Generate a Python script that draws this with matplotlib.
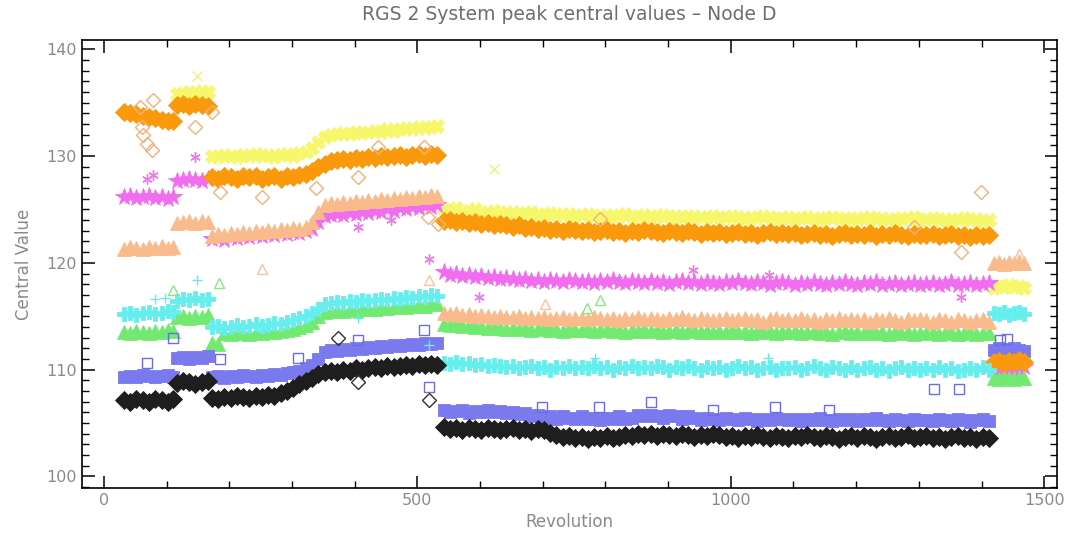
import numpy as np
import matplotlib
matplotlib.use('Agg')
import matplotlib.pyplot as plt
from matplotlib.ticker import MultipleLocator

nan = np.nan

# revolutions sampled in each observing period
rev_a = [32, 42, 52, 62, 72, 82, 92, 102, 110]
rev_b = [116, 126, 136, 146, 156, 166]
rev_c = [172, 182, 192, 202, 212, 222, 232, 242, 252, 262, 272, 282, 292,
         302, 312, 322, 332, 342, 352, 362, 372, 382, 392, 402, 412, 422,
         432, 442, 452, 462, 472, 482, 492, 502, 512, 522, 532]
rev_d = [542, 552, 562, 572, 582, 592, 602, 612, 622, 632, 642,
         652, 662, 672, 682, 692, 702, 712, 722, 732, 742, 752,
         762, 772, 782, 792, 802, 812, 822, 832, 842, 852, 862,
         872, 882, 892, 902, 912, 922, 932, 942, 952, 962, 972,
         982, 992, 1002, 1012, 1022, 1032, 1042, 1052, 1062, 1072, 1082,
         1092, 1102, 1112, 1122, 1132, 1142, 1152, 1162, 1172, 1182, 1192,
         1202, 1212, 1222, 1232, 1242, 1252, 1262, 1272, 1282, 1292, 1302,
         1312, 1322, 1332, 1342, 1352, 1362, 1372, 1382, 1392, 1402, 1412]
rev_e = [1420, 1428, 1436, 1444, 1452, 1460, 1468]
revolution = rev_a + rev_b + rev_c + rev_d + rev_e

# peak central values (same order as revolution)
yellow = ([nan] * 9 +
          [135.8, 135.9, 136.0, 135.9, 136.1, 136.0] +
          [130.0, 129.9, 130.1, 130.0, 129.9, 130.1, 130.0, 130.2, 130.0, 130.1, 129.9, 130.1, 130.2,
           130.0, 130.3, 130.4, 130.8, 131.3, 131.8, 132.0, 132.1, 132.2, 132.1, 132.3, 132.2, 132.3,
           132.4, 132.3, 132.5, 132.4, 132.5, 132.6, 132.5, 132.7, 132.6, 132.7, 132.8] +
          [125.0, 124.9, 125.1, 124.8, 124.9, 125.0, 124.8, 124.7, 124.9, 124.8, 124.7,
           124.8, 124.6, 124.7, 124.8, 124.6, 124.5, 124.7, 124.6, 124.5, 124.6, 124.4,
           124.5, 124.6, 124.4, 124.5, 124.3, 124.5, 124.4, 124.6, 124.4, 124.3, 124.5,
           124.4, 124.3, 124.5, 124.4, 124.2, 124.4, 124.3, 124.4, 124.2, 124.3, 124.4,
           124.3, 124.2, 124.4, 124.3, 124.1, 124.3, 124.2, 124.4, 124.3, 124.1, 124.2,
           124.3, 124.1, 124.2, 124.3, 124.2, 124.0, 124.2, 124.3, 124.1, 124.2, 124.0,
           124.2, 124.1, 124.3, 124.0, 124.2, 124.1, 124.0, 124.2, 124.1, 124.3, 124.0,
           124.1, 124.2, 124.0, 124.1, 123.9, 124.1, 124.2, 124.0, 124.1, 123.9, 124.0] +
          [117.6, 117.8, 117.7, 117.9, 117.7, 117.8, 117.6])

orange = ([134.1, 134.0, 133.9, 133.8, 133.7, 133.6, 133.4, 133.3, 133.3] +
          [134.8, 134.9, 134.7, 134.9, 134.8, 134.7] +
          [128.0, 127.9, 128.1, 128.0, 127.9, 128.1, 128.0, 128.1, 127.9, 128.0, 128.1, 127.9, 128.1,
           128.0, 128.2, 128.3, 128.6, 129.0, 129.3, 129.5, 129.6, 129.7, 129.6, 129.8, 129.7, 129.9,
           129.8, 130.0, 129.9, 130.0, 130.1, 129.9, 130.1, 130.2, 130.0, 130.2, 130.1] +
          [123.9, 124.0, 123.8, 123.9, 123.7, 123.8, 123.6, 123.7, 123.5, 123.6, 123.5,
           123.4, 123.5, 123.3, 123.4, 123.2, 123.3, 123.1, 123.2, 123.0, 123.2, 123.1,
           123.0, 123.1, 122.9, 123.0, 123.1, 122.9, 123.0, 122.8, 123.0, 122.9, 123.1,
           123.0, 122.9, 122.8, 123.0, 122.9, 122.8, 123.0, 122.9, 122.7, 122.9, 122.8,
           122.9, 122.7, 122.8, 122.9, 122.7, 122.8, 122.6, 122.8, 122.9, 122.7, 122.8,
           122.7, 122.8, 122.6, 122.7, 122.8, 122.6, 122.7, 122.5, 122.7, 122.8, 122.6,
           122.7, 122.6, 122.8, 122.5, 122.7, 122.6, 122.8, 122.6, 122.5, 122.7, 122.6,
           122.6, 122.7, 122.5, 122.6, 122.7, 122.5, 122.6, 122.4, 122.6, 122.5, 122.6] +
          [110.7, 110.8, 110.6, 110.8, 110.7, 110.9, 110.7])

magenta = ([126.2, 126.3, 126.1, 126.2, 126.3, 126.1, 126.2, 126.0, 126.2] +
           [127.7, 127.8, 127.9, 127.8, 127.7, 127.9] +
           [122.2, 122.3, 122.1, 122.4, 122.3, 122.5, 122.4, 122.6, 122.5, 122.7, 122.6, 122.8, 122.7,
            122.9, 122.8, 123.0, 123.2, 123.8, 124.4, 124.5, 124.6, 124.5, 124.7, 124.6, 124.8, 124.7,
            124.9, 124.8, 125.0, 124.9, 125.1, 125.0, 125.2, 125.1, 125.3, 125.2, 125.4] +
           [119.1, 118.9, 119.0, 118.8, 118.9, 118.7, 118.8, 118.6, 118.7, 118.5, 118.6,
            118.5, 118.4, 118.5, 118.3, 118.4, 118.2, 118.4, 118.3, 118.2, 118.4, 118.3,
            118.2, 118.3, 118.1, 118.3, 118.2, 118.4, 118.2, 118.1, 118.3, 118.2, 118.1,
            118.3, 118.1, 118.2, 118.0, 118.2, 118.3, 118.1, 118.2, 118.0, 118.2, 118.1,
            118.0, 118.2, 118.1, 118.3, 118.1, 118.0, 118.2, 118.1, 117.9, 118.1, 118.2,
            118.1, 117.9, 118.1, 118.0, 118.2, 118.0, 117.9, 118.1, 118.0, 118.2, 118.0,
            117.9, 118.1, 118.0, 118.2, 117.9, 118.0, 118.1, 117.9, 118.0, 118.1, 117.9,
            118.0, 118.1, 117.9, 118.0, 118.2, 117.9, 118.0, 118.1, 117.9, 118.0, 118.1] +
           [110.1, 110.0, 110.2, 110.0, 110.1, 110.0, 110.2])

peach = ([121.3, 121.5, 121.4, 121.3, 121.5, 121.4, 121.6, 121.4, 121.5] +
         [123.7, 123.8, 123.9, 123.7, 123.9, 123.8] +
         [122.5, 122.7, 122.6, 122.8, 122.7, 122.9, 122.8, 123.0, 122.9, 123.1, 123.0, 123.2, 123.1,
          123.3, 123.2, 123.4, 123.8, 124.8, 125.4, 125.6, 125.5, 125.7, 125.6, 125.8, 125.7, 125.9,
          125.8, 126.0, 125.9, 126.1, 126.0, 126.2, 126.1, 126.3, 126.2, 126.4, 126.3] +
         [115.3, 115.2, 115.3, 115.1, 115.2, 115.0, 115.1, 115.0, 114.9, 115.0, 114.9,
          114.9, 115.0, 114.8, 114.9, 114.8, 114.9, 114.7, 114.8, 114.9, 114.7, 114.8,
          114.8, 114.7, 114.9, 114.8, 114.7, 114.8, 114.6, 114.8, 114.7, 114.9, 114.7,
          114.8, 114.7, 114.6, 114.8, 114.7, 114.9, 114.7, 114.6, 114.8, 114.7, 114.6,
          114.7, 114.8, 114.6, 114.7, 114.8, 114.6, 114.7, 114.5, 114.7, 114.8, 114.6,
          114.7, 114.6, 114.8, 114.6, 114.7, 114.5, 114.7, 114.6, 114.8, 114.6, 114.7,
          114.6, 114.7, 114.5, 114.7, 114.6, 114.8, 114.6, 114.5, 114.7, 114.6, 114.7,
          114.6, 114.5, 114.7, 114.6, 114.5, 114.7, 114.6, 114.5, 114.6, 114.7, 114.5] +
         [120.0, 120.1, 119.9, 120.1, 120.0, 120.2, 120.0])

green = ([113.5, 113.4, 113.6, 113.5, 113.4, 113.6, 113.5, 113.7, 113.6] +
         [114.9, 115.0, 114.8, 115.0, 114.9, 115.1] +
         [112.5, 112.4, 113.4, 113.3, 113.5, 113.4, 113.3, 113.5, 113.4, 113.6, 113.5, 113.6, 113.7,
          113.8, 114.0, 114.2, 114.5, 115.0, 115.4, 115.5, 115.6, 115.5, 115.7, 115.6, 115.7, 115.8,
          115.7, 115.9, 115.8, 115.9, 116.0, 115.9, 116.0, 116.1, 116.0, 116.2, 116.1] +
         [114.3, 114.2, 114.3, 114.1, 114.2, 114.0, 114.1, 113.9, 114.0, 113.9, 113.8,
          113.9, 113.8, 113.9, 113.7, 113.8, 113.9, 113.7, 113.8, 113.6, 113.8, 113.7,
          113.7, 113.8, 113.6, 113.7, 113.8, 113.6, 113.7, 113.5, 113.7, 113.6, 113.8,
          113.6, 113.7, 113.5, 113.6, 113.7, 113.5, 113.6, 113.7, 113.5, 113.6, 113.5,
          113.6, 113.5, 113.7, 113.5, 113.6, 113.4, 113.6, 113.5, 113.6, 113.4, 113.5,
          113.5, 113.6, 113.4, 113.5, 113.6, 113.4, 113.5, 113.3, 113.5, 113.6, 113.4,
          113.5, 113.4, 113.6, 113.4, 113.5, 113.3, 113.5, 113.4, 113.5, 113.3, 113.4,
          113.4, 113.5, 113.3, 113.4, 113.5, 113.3, 113.4, 113.5, 113.3, 113.4, 113.4] +
         [109.2, 109.1, 109.3, 109.2, 109.1, 109.3, 109.2])

cyan = ([115.2, 115.3, 115.1, 115.3, 115.4, 115.2, 115.3, 115.5, 115.4] +
        [116.4, 116.6, 116.5, 116.7, 116.5, 116.6] +
        [114.0, 114.1, 113.9, 114.0, 114.2, 114.0, 114.1, 114.3, 114.1, 114.2, 114.4, 114.3, 114.5,
         114.6, 114.8, 115.0, 115.3, 115.7, 116.1, 116.2, 116.3, 116.2, 116.4, 116.3, 116.5, 116.4,
         116.5, 116.6, 116.5, 116.7, 116.6, 116.8, 116.7, 116.9, 116.8, 117.0, 116.9] +
        [110.6, 110.5, 110.7, 110.5, 110.6, 110.4, 110.5, 110.3, 110.4, 110.3, 110.2,
         110.3, 110.1, 110.2, 110.3, 110.1, 110.2, 110.0, 110.2, 110.1, 110.3, 110.1,
         110.2, 110.1, 110.3, 110.1, 110.2, 110.0, 110.2, 110.1, 110.3, 110.1, 110.2,
         110.1, 110.3, 110.2, 110.0, 110.2, 110.1, 110.3, 110.1, 110.0, 110.2, 110.1,
         110.2, 110.0, 110.1, 110.3, 110.1, 110.2, 110.0, 110.1, 110.2, 110.0, 110.1,
         110.1, 110.2, 110.0, 110.1, 110.3, 110.1, 110.0, 110.2, 110.1, 110.0, 110.2,
         110.0, 110.1, 110.2, 110.0, 110.1, 109.9, 110.1, 110.2, 110.0, 110.1, 110.0,
         110.1, 110.0, 110.2, 110.0, 110.1, 109.9, 110.0, 110.1, 110.0, 110.2, 110.0] +
        [115.3, 115.2, 115.4, 115.1, 115.3, 115.4, 115.2])

blue = ([109.3, 109.4, 109.3, 109.5, 109.4, 109.3, 109.4, 109.5, 109.3] +
        [111.1, 111.2, 111.0, 111.2, 111.1, 111.3] +
        [109.3, 109.4, 109.2, 109.4, 109.3, 109.5, 109.4, 109.3, 109.5, 109.4, 109.6, 109.5, 109.7,
         109.8, 109.9, 110.1, 110.4, 111.0, 111.6, 111.8, 111.7, 111.9, 111.8, 112.0, 111.9, 112.1,
         112.0, 112.2, 112.1, 112.3, 112.2, 112.3, 112.4, 112.3, 112.5, 112.4, 112.5] +
        [106.2, 106.0, 106.1, 106.2, 105.9, 106.1, 106.0, 106.2, 106.0, 106.1, 105.9,
         106.0, 105.8, 105.9, 105.6, 105.7, 105.5, 105.6, 105.4, 105.6, 105.5, 105.4,
         105.6, 105.4, 105.5, 105.3, 105.5, 105.4, 105.6, 105.4, 105.5, 105.7, 105.6,
         105.7, 105.6, 105.5, 105.7, 105.6, 105.4, 105.6, 105.5, 105.3, 105.5, 105.4,
         105.3, 105.5, 105.4, 105.3, 105.5, 105.4, 105.2, 105.4, 105.3, 105.5, 105.4,
         105.3, 105.4, 105.2, 105.4, 105.3, 105.5, 105.3, 105.2, 105.4, 105.3, 105.4,
         105.2, 105.4, 105.3, 105.5, 105.3, 105.2, 105.4, 105.3, 105.2, 105.4, 105.3,
         105.3, 105.2, 105.4, 105.3, 105.2, 105.4, 105.3, 105.1, 105.3, 105.4, 105.2] +
        [111.8, 112.0, 111.7, 111.9, 112.0, 111.8, 111.7])

black = ([107.1, 107.0, 107.2, 107.1, 107.0, 107.2, 107.1, 107.0, 107.2] +
         [108.7, 108.9, 108.8, 108.6, 108.8, 108.9] +
         [107.3, 107.2, 107.4, 107.3, 107.5, 107.4, 107.3, 107.5, 107.4, 107.6, 107.5, 107.8, 108.0,
          108.3, 108.6, 108.9, 109.2, 109.6, 109.8, 109.9, 109.8, 110.0, 109.9, 110.1, 110.0, 110.1,
          110.2, 110.1, 110.3, 110.2, 110.3, 110.4, 110.3, 110.5, 110.4, 110.5, 110.4] +
         [104.6, 104.4, 104.5, 104.3, 104.5, 104.4, 104.3, 104.5, 104.4, 104.3, 104.4,
          104.5, 104.3, 104.4, 104.2, 104.4, 104.3, 104.1, 103.9, 103.7, 103.8, 103.6,
          103.7, 103.5, 103.7, 103.6, 103.8, 103.6, 103.7, 103.9, 103.8, 104.0, 103.9,
          104.0, 103.8, 104.0, 103.9, 103.8, 104.0, 103.9, 103.7, 103.9, 103.8, 104.0,
          103.9, 103.7, 103.8, 103.6, 103.8, 103.7, 103.9, 103.7, 103.6, 103.8, 103.7,
          103.6, 103.8, 103.7, 103.9, 103.7, 103.6, 103.8, 103.7, 103.5, 103.7, 103.8,
          103.6, 103.8, 103.7, 103.5, 103.7, 103.8, 103.6, 103.7, 103.9, 103.6, 103.7,
          103.8, 103.6, 103.7, 103.5, 103.7, 103.8, 103.6, 103.7, 103.5, 103.7, 103.6] +
         [nan] * 7)

# isolated points (outliers)
yellow_out_rev = [149, 623]
yellow_out_val = [137.5, 128.8]
orange_out_rev = [58, 61, 63, 69, 77, 79, 146, 173, 186, 253, 338, 405, 437, 511, 517, 533, 792, 1292, 1367, 1399]
orange_out_val = [134.6, 132.7, 132.0, 131.1, 130.6, 135.3, 132.7, 134.1, 126.6, 126.2, 127.0, 128.0, 130.9, 130.9,
                  124.3, 123.6, 124.1, 123.4, 121.0, 126.6]
magenta_out_rev = [68, 78, 146, 405, 458, 518, 598, 939, 1061, 1367]
magenta_out_val = [127.9, 128.2, 129.9, 123.4, 124.0, 120.4, 116.8, 119.3, 118.9, 116.8]
peach_out_rev = [253, 518, 704, 1460]
peach_out_val = [119.4, 118.4, 116.1, 120.8]
green_out_rev = [111, 183, 771, 792]
green_out_val = [117.5, 118.1, 115.8, 116.5]
cyan_out_rev = [82, 98, 149, 405, 518, 784, 1059]
cyan_out_val = [116.6, 116.7, 118.4, 114.8, 112.3, 111.1, 111.1]
blue_out_rev = [69, 111, 186, 309, 405, 511, 518, 699, 790, 872, 971, 1071, 1156, 1324, 1364, 1430, 1440]
blue_out_val = [110.6, 113.0, 111.0, 111.1, 112.8, 113.7, 108.4, 106.5, 106.5, 107.0, 106.2, 106.5, 106.2,
                108.2, 108.2, 112.8, 112.9]
black_out_rev = [373, 405, 518]
black_out_val = [113.0, 108.8, 107.1]

asterisk = (6, 2, 0)

fig = plt.figure(figsize=(10.7, 5.4), dpi=100)
ax = fig.add_axes([0.0766, 0.0963, 0.911, 0.830])

# dense bands, drawn in the order they overlap in the original
bands = [
    (yellow, '#f7f76c', 'X', 10),
    (magenta, '#f26cf0', '*', 13),
    (green, '#72ea72', '^', 9.5),
    (blue, '#7a7aee', 's', 9),
    (orange, '#fa990c', 'D', 9),
    (peach, '#f9bb8c', '^', 10),
    (cyan, '#66eeee', 'P', 10),
    (black, '#1e1e1e', 'D', 9),
]
for vals, col, mk, ms in bands:
    ax.plot(revolution, vals, linestyle='none', marker=mk, markersize=ms,
            markerfacecolor=col, markeredgecolor=col, markeredgewidth=0.6)

outliers = [
    (yellow_out_rev, yellow_out_val, '#f0f07a', 'x'),
    (orange_out_rev, orange_out_val, '#f2b07a', 'D'),
    (magenta_out_rev, magenta_out_val, '#ec7aea', asterisk),
    (peach_out_rev, peach_out_val, '#f5c4a0', '^'),
    (green_out_rev, green_out_val, '#88e888', '^'),
    (cyan_out_rev, cyan_out_val, '#66e8ee', '+'),
    (blue_out_rev, blue_out_val, '#6c6ce6', 's'),
    (black_out_rev, black_out_val, '#333333', 'D'),
]
for rv, vals, col, mk in outliers:
    ax.plot(rv, vals, linestyle='none', marker=mk, markersize=7.5,
            markerfacecolor='none', markeredgecolor=col, markeredgewidth=1.0)

ax.set_xlim(-35, 1520)
ax.set_ylim(98.9, 140.9)
ax.xaxis.set_major_locator(MultipleLocator(500))
ax.xaxis.set_minor_locator(MultipleLocator(100))
ax.yaxis.set_major_locator(MultipleLocator(10))
ax.yaxis.set_minor_locator(MultipleLocator(1))
ax.tick_params(which='both', direction='in', top=True, right=True,
               labelcolor='#8a8a8a', labelsize=11.5)
ax.tick_params(which='major', length=9, width=1.1)
ax.tick_params(which='minor', length=5, width=1.0)
for s in ax.spines.values():
    s.set_linewidth(1.2)

ax.set_title('RGS 2 System peak central values \u2013 Node D', color='#6e6e6e', fontsize=13.5, pad=14)
ax.set_xlabel('Revolution', color='#8a8a8a', fontsize=12, labelpad=4)
ax.set_ylabel('Central Value', color='#8a8a8a', fontsize=12, labelpad=10)

fig.savefig('out.png', dpi=100)
